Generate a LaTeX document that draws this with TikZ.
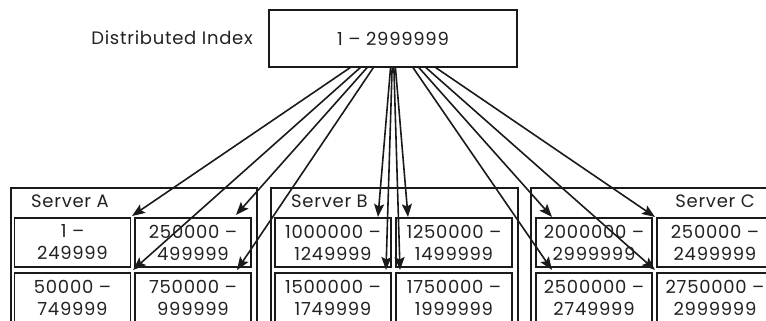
\documentclass[tikz,border=0pt]{standalone}
\usepackage{fontspec}
\setmainfont{Poppins}[LetterSpace=4]
\usetikzlibrary{arrows.meta,backgrounds}
\definecolor{ink}{HTML}{1A1A1A}
\definecolor{txt}{HTML}{222222}
\begin{document}
\begin{tikzpicture}[x=1pt,y=-1pt,
  box/.style={draw=ink,line width=1.5pt,inner sep=0pt},
  lbl/.style={inner sep=0pt,text=txt,font=\fontsize{18}{22}\selectfont},
  partbox/.style={box,minimum width=116pt,minimum height=49pt,align=center,
                text=txt,font=\fontsize{18}{22}\selectfont},
  server/.style={box,anchor=north west,minimum height=170pt},
  link/.style={draw=ink,line width=1.6pt,-{Stealth[length=13pt,width=10pt,inset=2.5pt]}}]
\useasboundingbox (0,0) rectangle (766,321);
\clip (0,0) rectangle (766,321);

% index node
\node[lbl] (title) at (172,38) {Distributed Index};
\node[box,fill=white,minimum width=248pt,minimum height=57pt,text=txt,
      font=\fontsize{18}{22}\selectfont] (idx) at (393,38.5) {1 – 2999999};

% server frames
\node[server,minimum width=246pt] (srvA) at (10,187) {};
\node[server,minimum width=247pt] (srvB) at (270,187) {};
\node[server,minimum width=246pt] (srvC) at (530,187) {};
\node[lbl,anchor=west] (labA) at (31,201) {Server A};
\node[lbl,anchor=west] (labB) at (291,201) {Server B};
\node[lbl,anchor=east] (labC) at (755,201) {Server C};

% partitions
\node[partbox] (a1) at (72.5,242.5) {1 –\\249999};
\node[partbox] (a2) at (193,242.5) {250000 –\\499999};
\node[partbox] (a3) at (72.5,297.5) {50000 –\\749999};
\node[partbox] (a4) at (193,297.5) {750000 –\\999999};
\node[partbox] (b1) at (333,242.5) {1000000 –\\1249999};
\node[partbox] (b2) at (454,242.5) {1250000 –\\1499999};
\node[partbox] (b3) at (333,297.5) {1500000 –\\1749999};
\node[partbox] (b4) at (454,297.5) {1750000 –\\1999999};
\node[partbox] (c1) at (594,242.5) {2000000 –\\2999999};
\node[partbox] (c2) at (715,242.5) {250000 –\\2499999};
\node[partbox] (c3) at (594,297.5) {2500000 –\\2749999};
\node[partbox] (c4) at (715,297.5) {2750000 –\\2999999};

% arrow targets on the partitions
\coordinate (ta1) at (132,216);
\coordinate (ta2) at (236,215);
\coordinate (ta3) at (133,270);
\coordinate (ta4) at (237,270);
\coordinate (tb1) at (378,217);
\coordinate (tb2) at (408,217);
\coordinate (tb3) at (386,270);
\coordinate (tb4) at (400,270);
\coordinate (tc1) at (552,217);
\coordinate (tc2) at (655,217);
\coordinate (tc3) at (552,270);
\coordinate (tc4) at (655,270);

\begin{scope}[on background layer]
  \foreach \t in {ta1,ta2,ta3,ta4,tb1,tb2,tb3,tb4,tc1,tc2,tc3,tc4}
    \draw[link] (idx.center) -- (\t);
\end{scope}
\end{tikzpicture}
\end{document}
